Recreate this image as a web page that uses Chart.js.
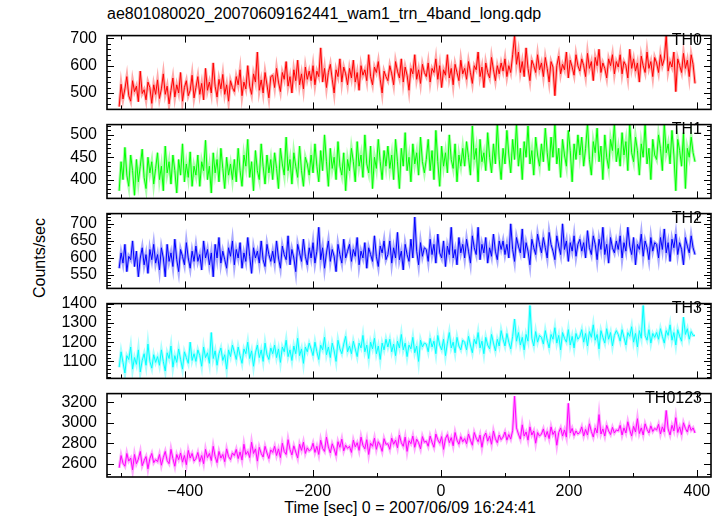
<!DOCTYPE html>
<html>
<head>
<meta charset="utf-8">
<script src="https://cdn.jsdelivr.net/npm/chart.js@4.4.1/dist/chart.umd.min.js"></script>
<style>
  body { margin: 0; background: #fff; font-family: "Liberation Sans", Arial, sans-serif; }
  #wrap { position: relative; width: 723px; height: 516px; background: #fff; overflow: hidden; }
  #wrap canvas { position: absolute; left: 0; }
  .txt { position: absolute; color: #000; font-size: 16px; white-space: nowrap; line-height: 1; }
</style>
</head>
<body>
<div id="wrap">
  <div class="txt" style="left:107px;top:6px;">ae801080020_20070609162441_wam1_trn_4band_long.qdp</div>
  <div class="txt" style="left:40px;top:258px;transform:translate(-50%,-50%) rotate(-90deg);">Counts/sec</div>
  <div class="txt" style="left:410px;top:500px;transform:translateX(-50%);">Time [sec] 0 = 2007/06/09 16:24:41</div>
</div>
<script>
// time bins: start and width (sec)
const T0 = -503;
const DT = 3;

const th0 = [
  450, 532, 478, 515, 560, 490, 470, 545, 505, 525, 468, 580, 498, 512, 475, 540, 520, 462, 530, 495,
  548, 480, 515, 570, 495, 525, 460, 510, 555, 485, 530, 500, 575, 470, 520, 545, 490, 510, 565, 482,
  520, 560, 495, 535, 475, 590, 510, 540, 500, 610, 525, 485, 550, 515, 568, 495, 530, 470, 545, 520,
  505, 560, 530, 585, 490, 540, 515, 600, 525, 495, 570, 540, 650, 510, 548, 500, 575, 530, 482, 560,
  565, 520, 590, 540, 505, 575, 550, 615, 525, 560, 500, 585, 545, 620, 530, 570, 515, 595, 550, 580,
  545, 600, 530, 580, 560, 665, 540, 590, 520, 575, 605, 550, 500, 585, 560, 625, 540, 595, 570, 530,
  590, 555, 620, 540, 575, 510, 600, 565, 585, 545, 640, 560, 530, 595, 575, 615, 550, 500, 580, 560,
  545, 600, 570, 530, 615, 580, 555, 625, 540, 595, 565, 510, 590, 570, 640, 550, 585, 535, 605, 575,
  560, 610, 540, 590, 575, 625, 550, 600, 520, 585, 565, 640, 555, 590, 530, 605, 575, 545, 620, 570,
  590, 550, 615, 575, 535, 600, 585, 650, 560, 595, 520, 610, 575, 555, 630, 585, 545, 600, 570, 610,
  580, 625, 560, 600, 575, 640, 710, 605, 650, 575, 615, 560, 665, 590, 545, 620, 600, 575, 640, 585,
  610, 560, 630, 590, 540, 615, 595, 490, 600, 635, 570, 605, 585, 650, 555, 620, 595, 565, 640, 600,
  580, 625, 600, 560, 645, 590, 615, 545, 630, 600, 660, 575, 610, 590, 555, 625, 600, 640, 570, 615,
  595, 640, 570, 615, 600, 555, 660, 590, 625, 580, 610, 540, 635, 600, 575, 650, 590, 615, 560, 630,
  610, 575, 640, 600, 625, 710, 580, 615, 595, 650, 505, 625, 600, 575, 645, 590, 620, 560, 640, 605,
  535
];
const th1 = [
  375, 440, 400, 472, 410, 385, 455, 420, 365, 445, 395, 430, 468, 405, 380, 450, 415, 440, 390, 425,
  460, 400, 430, 375, 475, 415, 440, 390, 455, 420, 370, 445, 410, 480, 395, 435, 405, 462, 385, 430,
  410, 455, 385, 440, 420, 488, 400, 430, 370, 460, 415, 445, 395, 470, 425, 380, 450, 410, 435, 400,
  445, 395, 470, 420, 385, 455, 430, 490, 405, 440, 375, 465, 420, 400, 480, 430, 390, 455, 415, 445,
  400, 460, 425, 380, 470, 435, 410, 495, 420, 445, 390, 460, 430, 405, 475, 420, 385, 450, 435, 410,
  455, 415, 480, 430, 395, 465, 420, 500, 440, 385, 470, 425, 450, 400, 485, 430, 410, 460, 375, 445,
  420, 470, 440, 395, 485, 430, 455, 405, 500, 435, 415, 475, 380, 450, 425, 490, 440, 400, 465, 430,
  475, 425, 455, 400, 490, 440, 380, 470, 430, 505, 420, 450, 395, 480, 435, 460, 410, 495, 440, 415,
  445, 490, 420, 465, 400, 510, 440, 385, 475, 430, 460, 415, 500, 445, 425, 480, 395, 455, 430, 470,
  430, 485, 450, 410, 520, 445, 470, 395, 490, 440, 460, 420, 505, 450, 415, 480, 435, 525, 445, 400,
  470, 435, 510, 455, 415, 490, 445, 525, 430, 470, 400, 485, 450, 520, 435, 465, 410, 495, 455, 430,
  480, 440, 515, 460, 420, 495, 450, 525, 435, 470, 405, 490, 455, 430, 510, 465, 395, 480, 445, 500,
  455, 495, 430, 470, 525, 445, 410, 485, 460, 515, 440, 475, 400, 500, 450, 425, 490, 465, 525, 440,
  470, 430, 505, 455, 485, 420, 525, 460, 440, 495, 465, 410, 480, 450, 525, 435, 470, 400, 490, 455,
  445, 500, 470, 420, 525, 460, 480, 435, 510, 455, 375, 490, 465, 430, 505, 380, 470, 450, 495, 460,
  440
];
const th2 = [
  570, 615, 585, 640, 560, 605, 595, 650, 575, 620, 545, 600, 630, 580, 610, 555, 625, 595, 640, 585,
  610, 565, 630, 600, 545, 640, 590, 615, 575, 655, 595, 560, 625, 605, 580, 645, 600, 570, 620, 590,
  635, 590, 610, 565, 650, 600, 625, 580, 615, 545, 640, 600, 660, 585, 620, 595, 570, 630, 605, 650,
  580, 625, 600, 645, 570, 615, 590, 660, 605, 555, 630, 600, 620, 585, 650, 595, 575, 640, 610, 590,
  620, 585, 650, 600, 570, 635, 610, 595, 665, 580, 625, 600, 560, 640, 615, 590, 655, 605, 580, 630,
  600, 645, 585, 620, 690, 595, 630, 570, 615, 650, 590, 625, 605, 560, 640, 610, 585, 655, 600, 620,
  640, 590, 625, 605, 660, 580, 620, 600, 645, 570, 630, 610, 590, 665, 605, 575, 635, 615, 650, 595,
  610, 650, 585, 630, 600, 675, 595, 620, 565, 640, 610, 590, 655, 600, 720, 620, 580, 645, 605, 630,
  625, 590, 655, 610, 640, 585, 670, 615, 600, 650, 575, 635, 610, 690, 600, 625, 580, 660, 615, 640,
  600, 655, 620, 585, 665, 630, 610, 690, 595, 640, 615, 660, 585, 630, 605, 670, 620, 595, 650, 625,
  650, 610, 640, 600, 700, 625, 590, 660, 635, 615, 685, 600, 645, 620, 580, 655, 630, 610, 670, 640,
  615, 660, 630, 600, 675, 640, 620, 595, 665, 635, 610, 700, 625, 650, 590, 645, 620, 665, 605, 640,
  655, 620, 645, 600, 680, 630, 610, 665, 640, 595, 655, 625, 690, 610, 640, 585, 660, 630, 615, 650,
  625, 665, 600, 645, 620, 690, 635, 610, 660, 580, 640, 625, 670, 605, 650, 630, 595, 660, 620, 645,
  640, 600, 660, 625, 685, 615, 645, 590, 655, 630, 670, 610, 645, 625, 580, 660, 635, 615, 665, 630,
  610
];
const th3 = [
  1070, 1150, 1095, 1040, 1130, 1110, 1175, 1060, 1120, 1085, 1160, 1045, 1105, 1140, 1080, 1190, 1100, 1065, 1135, 1095,
  1125, 1080, 1160, 1100, 1050, 1145, 1115, 1180, 1070, 1130, 1095, 1165, 1110, 1060, 1150, 1120, 1090, 1200, 1105, 1140,
  1100, 1160, 1130, 1075, 1175, 1120, 1145, 1090, 1250, 1115, 1155, 1080, 1140, 1170, 1105, 1135, 1060, 1160, 1125, 1185,
  1150, 1110, 1175, 1130, 1090, 1165, 1140, 1200, 1115, 1155, 1075, 1145, 1185, 1120, 1160, 1100, 1195, 1135, 1110, 1170,
  1140, 1185, 1120, 1165, 1095, 1175, 1150, 1210, 1125, 1160, 1105, 1180, 1140, 1220, 1130, 1165, 1090, 1175, 1150, 1195,
  1165, 1130, 1200, 1150, 1110, 1185, 1160, 1225, 1135, 1175, 1120, 1195, 1155, 1100, 1210, 1165, 1140, 1190, 1230, 1150,
  1180, 1140, 1205, 1165, 1125, 1195, 1170, 1235, 1150, 1185, 1115, 1200, 1165, 1220, 1140, 1180, 1110, 1195, 1160, 1215,
  1175, 1215, 1150, 1190, 1130, 1205, 1170, 1240, 1160, 1195, 1125, 1185, 1165, 1225, 1145, 1180, 1100, 1210, 1175, 1195,
  1190, 1150, 1220, 1175, 1205, 1140, 1235, 1185, 1160, 1215, 1130, 1195, 1250, 1170, 1200, 1145, 1225, 1180, 1160, 1210,
  1200, 1160, 1230, 1185, 1145, 1215, 1190, 1250, 1170, 1205, 1140, 1225, 1185, 1165, 1240, 1195, 1155, 1215, 1180, 1260,
  1215, 1180, 1245, 1200, 1165, 1230, 1320, 1205, 1250, 1185, 1225, 1160, 1240, 1205, 1390, 1220, 1180, 1255, 1200, 1235,
  1225, 1190, 1260, 1210, 1170, 1240, 1215, 1275, 1195, 1235, 1160, 1250, 1220, 1200, 1265, 1185, 1230, 1170, 1245, 1215,
  1230, 1265, 1200, 1245, 1180, 1255, 1225, 1290, 1210, 1240, 1165, 1260, 1225, 1195, 1270, 1215, 1250, 1180, 1235, 1260,
  1240, 1205, 1265, 1225, 1185, 1250, 1230, 1280, 1200, 1245, 1175, 1260, 1220, 1390, 1235, 1210, 1265, 1195, 1245, 1225,
  1250, 1215, 1270, 1230, 1195, 1260, 1235, 1290, 1210, 1250, 1185, 1265, 1230, 1205, 1330, 1240, 1270, 1215, 1255, 1235,
  1235
];
const th0123 = [
  2560, 2680, 2605, 2575, 2700, 2625, 2655, 2540, 2690, 2600, 2645, 2720, 2580, 2630, 2670, 2550, 2650, 2700, 2610, 2640,
  2620, 2690, 2585, 2660, 2720, 2630, 2600, 2740, 2650, 2575, 2690, 2640, 2705, 2615, 2680, 2590, 2730, 2655, 2700, 2625,
  2650, 2710, 2620, 2680, 2600, 2740, 2660, 2700, 2630, 2770, 2670, 2610, 2720, 2655, 2690, 2620, 2745, 2670, 2640, 2705,
  2680, 2740, 2650, 2715, 2635, 2790, 2690, 2720, 2660, 2810, 2700, 2745, 2625, 2760, 2700, 2665, 2770, 2705, 2650, 2735,
  2710, 2770, 2680, 2745, 2660, 2800, 2720, 2690, 2835, 2740, 2685, 2775, 2715, 2655, 2790, 2730, 2810, 2700, 2755, 2725,
  2740, 2800, 2710, 2770, 2690, 2830, 2750, 2720, 2860, 2765, 2705, 2795, 2745, 2680, 2815, 2760, 2840, 2725, 2780, 2750,
  2770, 2710, 2830, 2765, 2805, 2730, 2860, 2780, 2745, 2835, 2690, 2800, 2770, 2850, 2740, 2815, 2780, 2720, 2845, 2790,
  2795, 2740, 2850, 2790, 2830, 2755, 2880, 2805, 2770, 2860, 2720, 2825, 2795, 2870, 2760, 2840, 2805, 2745, 2865, 2810,
  2820, 2770, 2870, 2810, 2760, 2890, 2835, 2800, 2865, 2740, 2845, 2885, 2805, 2855, 2775, 2905, 2830, 2790, 2865, 2815,
  2845, 2795, 2890, 2830, 2780, 2905, 2850, 2815, 2880, 2760, 2865, 2900, 2820, 2870, 2790, 2920, 2845, 2805, 2880, 2835,
  2860, 2910, 2830, 2885, 2840, 2925, 3260, 2950, 2890, 2840, 2980, 2870, 2910, 2830, 2960, 2880, 2920, 2800, 2905, 2870,
  2890, 2940, 2860, 2915, 2845, 2960, 2885, 2920, 2780, 2905, 2950, 2870, 2930, 2860, 3190, 2900, 2945, 2875, 2920, 2890,
  2905, 2960, 2870, 2935, 2880, 2990, 2915, 2860, 2950, 2900, 3080, 2890, 2940, 2870, 2975, 2920, 2885, 2955, 2900, 2930,
  2920, 2975, 2880, 2950, 2900, 3010, 2930, 2870, 2965, 2910, 3040, 2895, 2950, 2880, 2990, 2935, 2900, 2970, 2915, 2945,
  2930, 2985, 2890, 2960, 2910, 3120, 2940, 2880, 2975, 2920, 3050, 2905, 2960, 2885, 3000, 2945, 2910, 2980, 2925, 2950,
  2900
];

// tick labels
const xTicks = [-400, -200, 0, 200, 400];
const yTicks0 = [500, 600, 700];
const yTicks1 = [400, 450, 500];
const yTicks2 = [550, 600, 650, 700];
const yTicks3 = [1100, 1200, 1300, 1400];
const yTicks4 = [2600, 2800, 3000, 3200];

const X_MIN = -522, X_MAX = 422;
const PAD = 12;

const panels = [
  { name: 'TH0', values: th0, color: '#ff0000', top: 28, h: 89, min: 440, max: 710, ticks: yTicks0, minor: 20 },
  { name: 'TH1', values: th1, color: '#00ff00', top: 117, h: 89, min: 358, max: 523, ticks: yTicks1, minor: 10 },
  { name: 'TH2', values: th2, color: '#0000ff', top: 206, h: 90, min: 511, max: 730, ticks: yTicks2, minor: 10 },
  { name: 'TH3', values: th3, color: '#00ffff', top: 296, h: 90, min: 1012, max: 1400, ticks: yTicks3, minor: 20 },
  { name: 'TH0123', values: th0123, color: '#ff00ff', top: 386, h: 89, min: 2470, max: 3285, ticks: yTicks4, minor: 100 }
];

// frame + inward ticks like qdp
const framePlugin = {
  id: 'frame',
  afterDatasetsDraw(chart, args, opts) {
    const { ctx, chartArea: a, scales } = chart;
    const xs = scales.x, ys = scales.y;
    ctx.save();
    ctx.strokeStyle = '#000';
    ctx.lineWidth = 1;
    ctx.beginPath();
    for (let v = -500; v <= 400; v += 100) {
      const px = Math.round(xs.getPixelForValue(v)) + 0.5;
      const len = v % 200 === 0 ? 7 : 4;
      ctx.moveTo(px, a.top); ctx.lineTo(px, a.top + len);
      ctx.moveTo(px, a.bottom); ctx.lineTo(px, a.bottom - len);
    }
    const start = Math.ceil(opts.min / opts.minor) * opts.minor;
    for (let v = start; v <= opts.max; v += opts.minor) {
      const py = Math.round(ys.getPixelForValue(v)) + 0.5;
      const len = opts.ticks.includes(v) ? 7 : 4;
      ctx.moveTo(a.left, py); ctx.lineTo(a.left + len, py);
      ctx.moveTo(a.right, py); ctx.lineTo(a.right - len, py);
    }
    ctx.stroke();
    ctx.lineWidth = 1.6;
    ctx.strokeRect(a.left, a.top, a.right - a.left, a.bottom - a.top);
    ctx.restore();
  }
};

const wrap = document.getElementById('wrap');

panels.forEach(function(p, idx) {
  const last = idx === panels.length - 1;
  const canvas = document.createElement('canvas');
  const ch = p.h + PAD * 2 + (last ? 30 : 0);
  canvas.width = 723;
  canvas.height = ch;
  canvas.style.top = (p.top - PAD) + 'px';
  wrap.appendChild(canvas);

  const pts = p.values.map((v, i) => ({ x: T0 + i * DT, y: v }));

  const lbl = document.createElement('div');
  lbl.className = 'txt';
  lbl.style.right = '21px';
  lbl.style.top = (p.top + 4) + 'px';
  lbl.textContent = p.name;
  wrap.appendChild(lbl);

  new Chart(canvas.getContext('2d'), {
    type: 'line',
    data: {
      datasets: [{
        data: pts,
        borderColor: p.color + '55',
        borderWidth: 3,
        pointRadius: 0,
        tension: 0
      }, {
        data: pts,
        borderColor: p.color,
        borderWidth: 1,
        pointRadius: 0,
        tension: 0
      }]
    },
    plugins: [framePlugin],
    options: {
      responsive: false,
      animation: false,
      devicePixelRatio: 1,
      layout: { padding: { top: PAD, bottom: last ? 10 : PAD, left: 0, right: 12 } },
      plugins: {
        legend: { display: false },
        tooltip: { enabled: false },
        frame: { min: p.min, max: p.max, minor: p.minor, ticks: p.ticks }
      },
      scales: {
        x: {
          type: 'linear',
          min: X_MIN,
          max: X_MAX,
          display: last,
          grid: { display: false, drawTicks: false },
          border: { display: false },
          afterBuildTicks: s => { s.ticks = xTicks.map(v => ({ value: v })); },
          afterFit: s => { if (last) s.height = 30; },
          ticks: {
            autoSkip: false,
            maxRotation: 0,
            padding: 5,
            color: '#000',
            font: { family: '"Liberation Sans", Arial, sans-serif', size: 16 },
            callback: v => (v < 0 ? '\u2212' + Math.abs(v) : String(v))
          }
        },
        y: {
          min: p.min,
          max: p.max,
          grid: { display: false, drawTicks: false },
          border: { display: false },
          afterBuildTicks: s => { s.ticks = p.ticks.map(v => ({ value: v })); },
          afterFit: s => { s.width = 107; },
          ticks: {
            autoSkip: false,
            padding: 10,
            color: '#000',
            font: { family: '"Liberation Sans", Arial, sans-serif', size: 16 },
            callback: v => String(v)
          }
        }
      }
    }
  });
});
</script>
</body>
</html>
